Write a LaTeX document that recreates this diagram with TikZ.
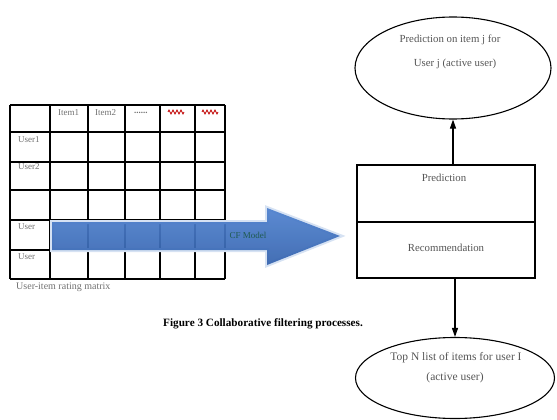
\documentclass[tikz,border=0pt]{standalone}
\usepackage{fontspec}
\setmainfont{Liberation Serif}
\usetikzlibrary{shapes.geometric,arrows.meta,decorations.pathmorphing}
\definecolor{txtgray}{HTML}{555555}
\definecolor{cellgray}{HTML}{707070}
\definecolor{arrowtop}{HTML}{4F82CF}
\definecolor{arrowbot}{HTML}{3563AE}
\definecolor{halo}{HTML}{D6E2F3}
\definecolor{cfgreen}{HTML}{1E5A50}
\tikzset{
  tbl/.style={line width=1.1pt, black},
  shapeline/.style={draw=black, line width=1.1pt},
  celltext/.style={anchor=west, inner sep=0pt, text=cellgray, font=\fontsize{9}{10}\selectfont},
  bodytext/.style={inner sep=0pt, text=txtgray, font=\fontsize{10.8}{12}\selectfont},
  arr/.style={line width=1.1pt, -{Triangle[length=9pt,width=6pt]}},
  squig/.style={draw=red!75!black, line width=0.7pt, decorate, decoration={zigzag, segment length=4pt, amplitude=2pt}}
}
\begin{document}
\begin{tikzpicture}[x=1pt,y=-1pt]
\useasboundingbox (0,0) rectangle (557,420);

% ---- user-item table ----
\foreach \x in {10,50,88,125,160,195,225} \draw[tbl] (\x,105) -- (\x,279);
\foreach \y in {105,132,162,190,220,250,279} \draw[tbl] (10,\y) -- (225,\y);

\node[celltext] (it1) at (58,113) {Item1};
\node[celltext] (it2) at (95,113) {Item2};
\node[celltext, font=\bfseries\fontsize{9}{10}\selectfont] (dots) at (134,113) {......};
\draw[squig] (168,112) -- (184,112);
\draw[squig] (202,112) -- (218,112);
\node[celltext] (u1) at (18,140) {User1};
\node[celltext] (u2) at (18,167) {User2};
\node[celltext] (u4) at (18,227) {User};
\node[celltext] (u5) at (18,257) {User};
\node[anchor=west, inner sep=0pt, text=cellgray, font=\fontsize{10}{11}\selectfont] (mat) at (16,287) {User-item rating matrix};

% ---- CF model block arrow ----
\path[draw=halo, line width=4pt, line join=miter]
  (52,222) -- (267,222) -- (267,208) -- (340,236) -- (267,265) -- (267,250) -- (52,250) -- cycle;
\path[top color=arrowtop, bottom color=arrowbot, fill opacity=0.93]
  (52,222) -- (267,222) -- (267,208) -- (340,236) -- (267,265) -- (267,250) -- (52,250) -- cycle;
\node[inner sep=0pt, text=cfgreen, font=\fontsize{9}{10}\selectfont] (cf) at (248,235) {CF Model};

% ---- prediction / recommendation box ----
\node[shapeline, minimum width=178pt, minimum height=57pt, inner sep=0pt] (pred) at (446,193.5) {};
\node[shapeline, minimum width=178pt, minimum height=56pt, inner sep=0pt] (rec) at (446,250) {};
\node[bodytext] (predt) at (444,178) {Prediction};
\node[bodytext] (rect) at (446,248) {Recommendation};

% ---- top ellipse ----
\node[ellipse, shapeline, minimum width=196pt, minimum height=102pt, inner sep=0pt] (top) at (453,68) {};
\node[bodytext] (top1) at (450,40) {Prediction on item j for};
\node[bodytext] (top2) at (455,64) {User j (active user)};

% ---- bottom ellipse ----
\node[ellipse, shapeline, minimum width=199pt, minimum height=81pt, inner sep=0pt] (bot) at (455,378) {};
\node[bodytext, font=\fontsize{11.5}{13}\selectfont] (bot1) at (456,358) {Top N list of items for user I};
\node[bodytext, font=\fontsize{11.5}{13}\selectfont] (bot2) at (455,378) {(active user)};

% ---- connectors ----
\draw[arr] (pred.north -| top.south) -- (top.south);
\draw[arr] (rec.south -| bot.north) -- (bot.north);

% ---- figure caption ----
\node[anchor=west, inner sep=0pt, font=\bfseries\fontsize{11.2}{12}\selectfont] (cap) at (163,324) {Figure 3 Collaborative filtering processes.};
\end{tikzpicture}
\end{document}
